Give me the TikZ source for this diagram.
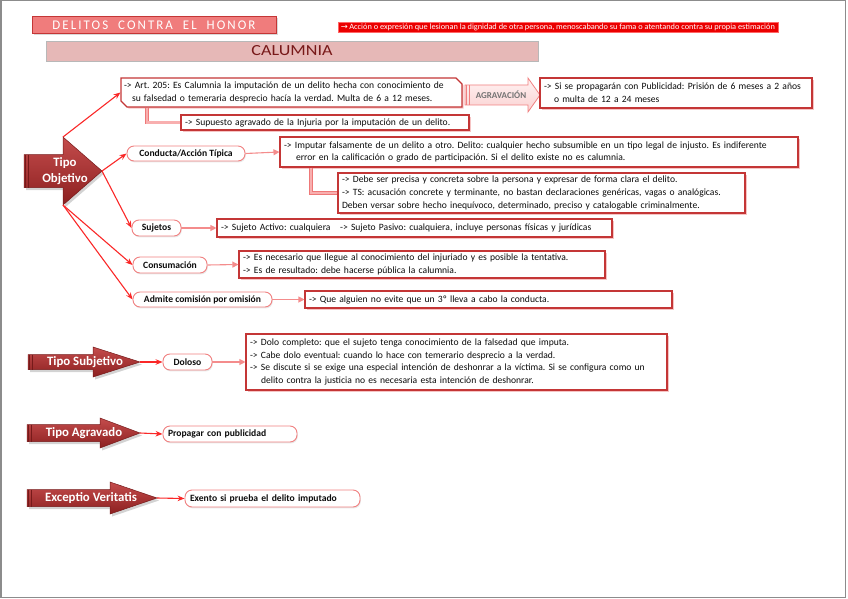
\documentclass[tikz,border=0pt]{standalone}
\usepackage{fontspec}
\setmainfont{Carlito}
\newfontfamily\djv{DejaVu Sans}
\usetikzlibrary{arrows.meta,shapes.misc,shadows}
\frenchspacing
\definecolor{bxred}{RGB}{196,54,54}
\definecolor{shpink}{RGB}{246,196,196}
\definecolor{pillred}{RGB}{240,128,128}
\definecolor{lnred}{RGB}{250,40,40}
\definecolor{lnpink}{RGB}{244,140,140}
\definecolor{arrA}{RGB}{196,76,76}
\definecolor{arrB}{RGB}{140,32,32}
\definecolor{arrD}{RGB}{118,26,26}
\definecolor{calfill}{RGB}{230,184,183}
\definecolor{caltext}{RGB}{120,25,25}
\definecolor{delfill}{RGB}{240,124,124}
\definecolor{txt}{RGB}{12,12,12}
\definecolor{agrA}{RGB}{255,242,242}
\definecolor{agrB}{RGB}{250,210,210}
\definecolor{elbowA}{RGB}{238,120,120}
\definecolor{elbowB}{RGB}{248,175,175}
\definecolor{framegray}{RGB}{140,140,140}
\newcommand{\blockarr}[8]{%
  \path[#8] ({#2},{#5-#6}) -- ({#3},{#5-#6}) -- ({#3},{#5-#7}) -- ({#4},{#5})
     -- ({#3},{#5+#7}) -- ({#3},{#5+#6}) -- ({#2},{#5+#6}) -- cycle;
  \coordinate (#1tip) at ({#4},{#5});
  \coordinate (#1top) at ({#3},{#5-#7});
  \coordinate (#1bot) at ({#3},{#5+#7});
  \coordinate (#1sa) at ({#2+1.8},{#5-#6});
  \coordinate (#1sb) at ({#2+1.8},{#5+#6});
  \coordinate (#1sc) at ({#2+4.2},{#5-#6});
  \coordinate (#1sd) at ({#2+4.2},{#5+#6});
}
\begin{document}
\begin{tikzpicture}[x=1pt,y=-1pt,
  txtbox/.style={draw=bxred, line width=1.1pt, fill=white, align=left, inner xsep=4pt, inner ysep=1pt,
    font=\fontsize{9.6}{12.6}\selectfont, text=txt,
    drop shadow={shadow xshift=1.6pt, shadow yshift=-1.6pt, fill=shpink, opacity=1}},
  pill/.style={draw=pillred, line width=0.9pt, fill=white, rounded corners=7pt, inner xsep=5pt, inner ysep=1pt,
    font=\fontsize{9.6}{10}\selectfont\bfseries, text=txt,
    drop shadow={shadow xshift=0.8pt, shadow yshift=-1.4pt, opacity=0.18}},
  redline/.style={draw=lnred, line width=1.1pt, -{Stealth[length=7pt,width=5.5pt]}},
  pinkline/.style={draw=lnpink, line width=1.1pt, -{Triangle[length=6pt,width=6pt]}},
  elbow/.style={draw=elbowA, line width=0.6pt, double=elbowB, double distance=2.6pt},
  bigarr/.style={top color=arrA, bottom color=arrB, draw=arrD, line width=0.5pt,
    drop shadow={shadow xshift=2pt, shadow yshift=-2.5pt, opacity=0.35}},
  agrarr/.style={top color=agrA, bottom color=agrB, draw=pillred, line width=0.8pt},
  stripe/.style={draw=arrD, line width=1pt},
  agrstripe/.style={draw=pillred, line width=0.7pt},
  arrtext/.style={text=white, font=\fontsize{12.8}{16}\selectfont\bfseries, align=center, inner sep=0pt}
]
\useasboundingbox (0,0) rectangle (848,599);
\draw[framegray, line width=1.3pt] (1,0.8) rectangle (845.6,597.6);

% ---------- header ----------
\node[draw=bxred, line width=0.9pt, fill=delfill, minimum width=244pt, minimum height=17pt, inner sep=0pt,
  drop shadow={shadow xshift=1.5pt, shadow yshift=-2pt, opacity=0.3}] (hdr) at (154,25)
  {\color{white}\resizebox{203pt}{8.6pt}{\addfontfeature{LetterSpace=16}DELITOS\ \ CONTRA\ \ EL\ \ HONOR}};
\node[fill=red!92!black, draw=red!60, line width=0.5pt, minimum width=440pt, minimum height=10pt, inner sep=0pt] (defn) at (558,27)
  {\color{white}\resizebox{434pt}{5.6pt}{{\djv →}\,Acción o expresión que lesionan la dignidad de otra persona, menoscabando su fama o atentando contra su propia estimación}};
\node[fill=calfill, draw=black!28, line width=0.8pt, minimum width=492pt, minimum height=20pt, inner sep=0pt] (cal) at (292,51)
  {\color{caltext}\resizebox{81pt}{10pt}{CALUMNIA}};

% ---------- big arrows ----------
\blockarr{tobj}{24}{63}{102}{171}{16.5}{34}{bigarr}
\draw[stripe] (tobjsa) -- (tobjsb); \draw[stripe] (tobjsc) -- (tobjsd);
\node[arrtext] (tobjT) at (65,171) {Tipo\\Objetivo};

\blockarr{tsub}{28}{93}{140}{362}{7.5}{15}{bigarr}
\draw[stripe] (tsubsa) -- (tsubsb); \draw[stripe] (tsubsc) -- (tsubsd);
\node[arrtext] (tsubT) at (85,362) {Tipo Subjetivo};

\blockarr{tagr}{27}{100}{140}{433}{8.5}{15}{bigarr}
\draw[stripe] (tagrsa) -- (tagrsb); \draw[stripe] (tagrsc) -- (tagrsd);
\node[arrtext] (tagrT) at (84,433) {Tipo Agravado};

\blockarr{texc}{27}{110}{157}{498}{8.5}{16}{bigarr}
\draw[stripe] (texcsa) -- (texcsb); \draw[stripe] (texcsc) -- (texcsd);
\node[arrtext] (texcT) at (91,498) {Exceptio Veritatis};

% ---------- Art. 205 block ----------
\node[txtbox, chamfered rectangle, chamfered rectangle corners={north east,south west},
  chamfered rectangle xsep=3pt, chamfered rectangle ysep=3pt, inner xsep=0pt,
  text width=335pt, minimum width=341pt, minimum height=29pt] (art) at (291.5,92.5)
  {-> Art. 205: Es Calumnia la imputación de un delito hecha con conocimiento de\\
   \hspace*{8pt}su falsedad o temeraria desprecio hacía la verdad. Multa de 6 a 12 meses.};
\node[txtbox, text width=280pt, minimum height=15pt] (sup) at (325,122.5)
  {-> Supuesto agravado de la Injuria por la imputación de un delito.};
\blockarr{agv}{465}{528}{540}{95}{10}{17}{agrarr}
\draw[agrstripe] (agvsa) -- (agvsb); \draw[agrstripe] (agvsc) -- (agvsd);
\node[text=black!55, font=\fontsize{9}{10}\selectfont\bfseries, inner sep=0pt] (agvT) at (501,95) {AGRAVACIÓN};
\node[txtbox, text width=264pt, minimum height=30pt] (res) at (676,93)
  {-> Si se propagarán con Publicidad: Prisión de 6 meses a 2 años\\
   \hspace*{10pt}o multa de 12 a 24 meses};

% ---------- Tipo objetivo branches ----------
\node[pill, minimum width=118pt, minimum height=15pt] (cond) at (186,153.5) {Conducta/Acción Típica};
\node[txtbox, text width=510pt, minimum height=30pt] (imp) at (539,152)
  {-> Imputar falsamente de un delito a otro. Delito: cualquier hecho subsumible en un tipo legal de injusto. Es indiferente\\
   \hspace*{12pt}error en la calificación o grado de participación. Si el delito existe no es calumnia.};
\node[txtbox, text width=399pt, minimum height=40pt] (deb) at (541.5,193)
  {-> Debe ser precisa y concreta sobre la persona y expresar de forma clara el delito.\\
   -> TS: acusación concrete y terminante, no bastan declaraciones genéricas, vagas o analógicas.\\
   Deben versar sobre hecho inequívoco, determinado, preciso y catalogable criminalmente.};

\node[pill, minimum width=49pt, minimum height=16pt] (suj) at (156.5,228) {Sujetos};
\node[txtbox, text width=387pt, minimum height=18pt] (sujb) at (414.5,228)
  {-> Sujeto Activo: cualquiera\quad -> Sujeto Pasivo: cualquiera, incluye personas físicas y jurídicas};

\node[pill, minimum width=74pt, minimum height=16pt] (cons) at (170,265) {Consumación};
\node[txtbox, text width=358pt, minimum height=27pt] (consb) at (422,264.5)
  {-> Es necesario que llegue al conocimiento del injuriado y es posible la tentativa.\\
   -> Es de resultado: debe hacerse pública la calumnia.};

\node[pill, minimum width=139pt, minimum height=15pt] (adm) at (202.5,299.5) {Admite comisión por omisión};
\node[txtbox, text width=359pt, minimum height=17pt] (admb) at (488.5,299.5)
  {-> Que alguien no evite que un 3º lleva a cabo la conducta.};

% ---------- Tipo subjetivo ----------
\node[pill, minimum width=49pt, minimum height=16pt] (dol) at (187.5,362) {Doloso};
\node[txtbox, text width=413pt, minimum height=56pt] (dolb) at (456.5,362)
  {-> Dolo completo: que el sujeto tenga conocimiento de la falsedad que imputa.\\
   -> Cabe dolo eventual: cuando lo hace con temerario desprecio a la verdad.\\
   -> Se discute si se exige una especial intención de deshonrar a la víctima. Si se configura como un\\
   \hspace*{11pt}delito contra la justicia no es necesaria esta intención de deshonrar.};

% ---------- Tipo agravado / Exceptio ----------
\node[pill, text width=124pt, align=left, minimum height=16pt] (prop) at (230,434) {Propagar con publicidad};
\node[pill, text width=165pt, align=left, minimum height=17pt] (exe) at (272.5,498.5) {Exento si prueba el delito imputado};

% ---------- connectors ----------
\draw[elbow] ([xshift=-144.5pt]art.south) |- (sup.west);
\draw[elbow] ([xshift=-228pt]imp.south) |- (deb.west);

\draw[redline] (tobjtop) -- (art.west);
\draw[redline] (tobjtip) -- (cond.west);
\draw[redline] (tobjtip) -- (suj.west);
\draw[redline] (tobjbot) -- (cons.west);
\draw[redline] (tobjbot) -- (adm.west);
\draw[redline] (tsubtip) -- (dol.west);
\draw[redline] (tagrtip) -- (prop.west);
\draw[redline] (texctip) -- (exe.west);

\draw[pinkline] (cond.east) -- (imp.west);
\draw[pinkline] (suj.east) -- (sujb.west);
\draw[pinkline] (cons.east) -- (consb.west);
\draw[pinkline] (adm.east) -- (admb.west);
\draw[pinkline] (dol.east) -- (dolb.west);
\end{tikzpicture}
\end{document}
